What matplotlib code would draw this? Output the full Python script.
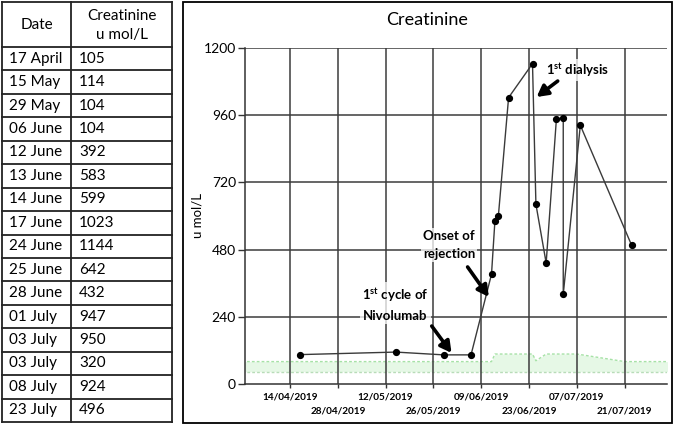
import matplotlib
matplotlib.use("Agg")
import matplotlib.pyplot as plt
import matplotlib.dates as mdates
from matplotlib.lines import Line2D
from matplotlib.patches import Rectangle
from datetime import datetime

# ---------------- data ----------------
table_dates = ["17 April", "15 May", "29 May", "06 June", "12 June", "13 June",
               "14 June", "17 June", "24 June", "25 June", "28 June", "01 July",
               "03 July", "03 July", "08 July", "23 July"]
creatinine = [105, 114, 104, 104, 392, 583, 599, 1023, 1144, 642, 432, 947,
              950, 320, 924, 496]
year = 2019

tick_labels = ["14/04/2019", "28/04/2019", "12/05/2019", "26/05/2019",
               "09/06/2019", "23/06/2019", "07/07/2019", "21/07/2019"]
y_ticks = [0, 240, 480, 720, 960, 1200]

# reference range (green band)
ref_dates = ["31/03/2019", "12/06/2019", "13/06/2019", "24/06/2019", "25/06/2019",
             "28/06/2019", "07/07/2019", "21/07/2019", "03/08/2019"]
ref_upper = [80, 80, 107, 107, 83, 107, 107, 80, 80]
ref_lower = [44, 44, 44, 44, 44, 44, 44, 44, 44]

# ---------------- figure ----------------
W, H = 674, 426
fig = plt.figure(figsize=(W / 100, H / 100), dpi=100)
plt.rcParams['mathtext.fontset'] = 'custom'
plt.rcParams['mathtext.rm'] = 'Lato'
plt.rcParams['mathtext.bf'] = 'Lato:bold'

def fx(px):
    return px / W

def fy(py):
    return 1 - py / H

TF = ['Lato', 'DejaVu Sans']
NF = ['Liberation Sans Narrow', 'Lato', 'DejaVu Sans']

# ---------------- table ----------------
tl, tc, tr = 2, 71, 172
ttop, thead, tbot = 1.5, 47, 422
row_h = (tbot - thead) / len(table_dates)
lc = '#222222'
for x in (tl, tc, tr):
    fig.add_artist(Line2D([fx(x), fx(x)], [fy(ttop), fy(tbot)], transform=fig.transFigure, color=lc, lw=1.3))
for i in range(len(table_dates) + 1):
    y = thead + i * row_h
    fig.add_artist(Line2D([fx(tl), fx(tr)], [fy(y), fy(y)], transform=fig.transFigure, color=lc, lw=1.3))
fig.add_artist(Line2D([fx(tl), fx(tr)], [fy(ttop), fy(ttop)], transform=fig.transFigure, color=lc, lw=1.3))

fig.text(fx((tl + tc) / 2), fy(25), "Date", ha='center', va='center', fontsize=11, family=TF)
fig.text(fx((tc + tr) / 2), fy(16), "Creatinine", ha='center', va='center', fontsize=11, family=TF)
fig.text(fx((tc + tr) / 2), fy(35), "u mol/L", ha='center', va='center', fontsize=11, family=TF)
for i, (d, v) in enumerate(zip(table_dates, creatinine)):
    yc = thead + (i + 0.5) * row_h
    fig.text(fx(9), fy(yc), d, ha='left', va='center', fontsize=11, family=TF)
    fig.text(fx(79), fy(yc), str(v), ha='left', va='center', fontsize=11, family=TF)

# ---------------- chart frame ----------------
fig.add_artist(Rectangle((fx(183), fy(423)), fx(672) - fx(183), fy(2) - fy(423),
                         transform=fig.transFigure, fill=False, ec='black', lw=1.3))
fig.text(fx(427.5), fy(20), "Creatinine", ha='center', va='center', fontsize=13, family=TF)

ax = fig.add_axes([fx(245), fy(384), fx(667) - fx(245), fy(48) - fy(384)])

dates = [datetime.strptime(f"{d} {year}", "%d %B %Y") for d in table_dates]
rdates = [datetime.strptime(d, "%d/%m/%Y") for d in ref_dates]
tdates = [datetime.strptime(d, "%d/%m/%Y") for d in tick_labels]

ax.fill_between(rdates, ref_lower, ref_upper, color='#e6f8e6', lw=0, zorder=1)
ax.plot(rdates, ref_upper, color='#a6e2a6', lw=1.0, ls=(0, (2, 1.5)), zorder=1.5)
ax.plot(rdates, ref_lower, color='#b8dcb8', lw=1.0, ls=(0, (2, 1.5)), zorder=1.5)

ax.plot(dates, creatinine, color='#3a3a3a', lw=1.0, marker='o', ms=4.2,
        mfc='black', mec='black', zorder=5)

ax.set_xlim(datetime(2019, 3, 31, 20), datetime(2019, 8, 2, 9))
ax.set_ylim(0, 1200)

ax.set_yticks(y_ticks)
ax.set_yticklabels([str(v) for v in y_ticks], fontsize=10, family=TF)
ax.tick_params(axis='y', length=5, width=1, color='#333333', pad=1.5)

major = tdates[0::2]
minor = tdates[1::2]
ax.set_xticks(major)
ax.set_xticklabels(tick_labels[0::2], fontsize=7.2, fontweight='bold', family=NF)
ax.set_xticks(minor, minor=True)
ax.set_xticklabels(tick_labels[1::2], minor=True, fontsize=7.2, fontweight='bold', family=NF)
ax.tick_params(axis='x', which='major', length=3.2, width=1, color='#333333', pad=3.0)
ax.tick_params(axis='x', which='minor', length=3.2, width=1, color='#333333', pad=13.0)

for t in tdates:
    ax.axvline(t, color='#3c3c3c', lw=1.1, zorder=2)
for v in y_ticks[1:]:
    ax.axhline(v, color='#3c3c3c', lw=1.1, zorder=2)

for s in ('top', 'right'):
    ax.spines[s].set_visible(False)
ax.spines['left'].set_color('#333333')
ax.spines['bottom'].set_color('#333333')
ax.spines['left'].set_linewidth(1.1)
ax.spines['bottom'].set_linewidth(1.1)

ax.set_ylabel("u mol/L", fontsize=9.5, family=TF, labelpad=0.5)

# ---------------- annotations ----------------
box = dict(boxstyle='square,pad=0.15', fc='white', ec='none', alpha=0.75)
ap = dict(arrowstyle='-|>,head_length=0.55,head_width=0.3', lw=2.6, color='black',
          shrinkA=0, shrinkB=0, mutation_scale=12)

ax.text(datetime(2019, 7, 7, 2), 1121, r"1$^{\mathbf{st}}$ dialysis", ha='center', va='center',
        fontsize=9.5, fontweight='bold', family=TF, zorder=6, bbox=box)
ax.annotate('', xy=(datetime(2019, 6, 25, 5), 1025), xytext=(datetime(2019, 7, 1, 9), 1082),
            arrowprops=ap, zorder=7)

ax.text(datetime(2019, 5, 30, 14), 496, "Onset of\nrejection", ha='center', va='center',
        fontsize=9.5, fontweight='bold', family=TF, linespacing=1.6, zorder=6, bbox=box)
ax.annotate('', xy=(datetime(2019, 6, 11, 5), 311), xytext=(datetime(2019, 6, 5, 0), 418),
            arrowprops=ap, zorder=7)

ax.text(datetime(2019, 5, 14, 20), 286, "1$^{\\mathbf{st}}$ cycle of\nNivolumab", ha='center', va='center',
        fontsize=9.5, fontweight='bold', family=TF, linespacing=1.6, zorder=6, bbox=box)
ax.annotate('', xy=(datetime(2019, 5, 31, 7), 111), xytext=(datetime(2019, 5, 25, 12), 207),
            arrowprops=ap, zorder=7)

fig.savefig("out.png", dpi=100)
